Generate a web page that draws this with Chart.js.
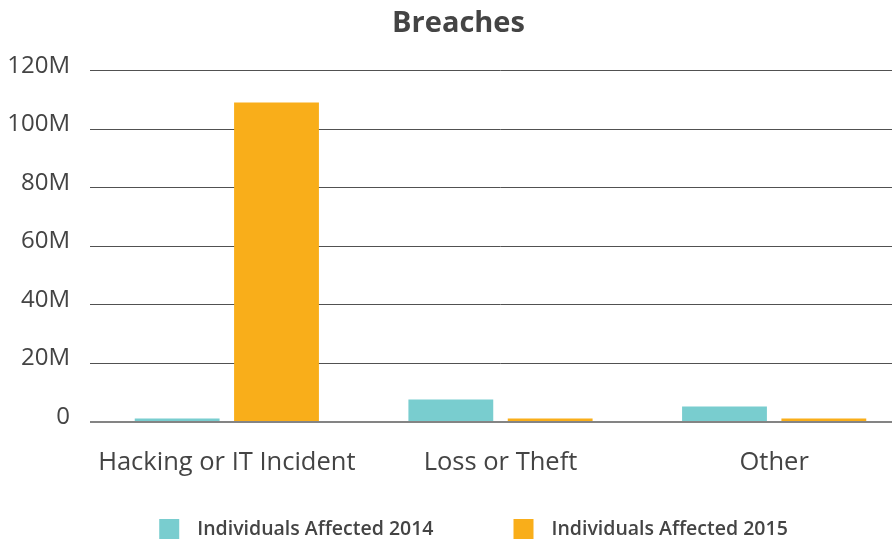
<!DOCTYPE html>
<html>
<head>
<meta charset="utf-8">
<title>Breaches</title>
<script src="https://cdn.jsdelivr.net/npm/chart.js@4/dist/chart.umd.min.js"></script>
<style>
  html, body { margin: 0; padding: 0; background: #fff; overflow: hidden; }
  #wrap { width: 911px; height: 540px; }
</style>
</head>
<body>
<div id="wrap"><canvas id="chart"></canvas></div>
<script>
// ========== DATA ==========
const categories = ["Hacking or IT Incident", "Loss or Theft", "Other"];
const affected2014 = [1.2e6, 7.7e6, 5.3e6];
const affected2015 = [109.2e6, 1.2e6, 1.2e6];
const seriesLabels = ["Individuals Affected 2014", "Individuals Affected 2015"];
const yTickLabels = ["0", "20M", "40M", "60M", "80M", "100M", "120M"];

const TEAL = "#79cdcf";
const ORANGE = "#f9ae1a";
const FONT = "'Open Sans', 'Noto Sans', sans-serif";

// legend drawn by hand: wide gaps between items, square boxes
const bottomLegend = {
  id: "bottomLegend",
  afterDraw(chart) {
    const c = chart.ctx;
    const box = 20, gap = 18, spacing = 80, cy = 529;
    c.save();
    c.font = `600 19.5px ${FONT}`;
    c.textBaseline = "middle";
    const items = chart.data.datasets.map((ds) => ({
      text: ds.label,
      color: ds.backgroundColor,
      w: c.measureText(ds.label).width,
    }));
    const total = items.reduce((s, it) => s + box + gap + it.w, 0) + spacing * (items.length - 1);
    let x = chart.width / 2 + 18 - total / 2;
    items.forEach((it) => {
      c.fillStyle = it.color;
      c.fillRect(x, cy - box / 2, box, box);
      c.fillStyle = "#444";
      c.fillText(it.text, x + box + gap, cy);
      x += box + gap + it.w + spacing;
    });
    c.restore();
  },
};

// ========== CHART ==========
const ctx = document.getElementById("chart");
new Chart(ctx, {
  type: "bar",
  data: {
    labels: categories,
    datasets: [
      { label: seriesLabels[0], data: affected2014, backgroundColor: TEAL },
      { label: seriesLabels[1], data: affected2015, backgroundColor: ORANGE },
    ],
  },
  plugins: [bottomLegend],
  options: {
    responsive: true,
    maintainAspectRatio: false,
    animation: false,
    layout: { padding: { left: 6, right: 0, top: 0, bottom: 58 } },
    datasets: {
      bar: { categoryPercentage: 0.726, barPercentage: 0.854 },
    },
    plugins: {
      title: {
        display: true,
        text: "Breaches",
        color: "#444",
        font: { family: FONT, size: 29, weight: "bold" },
        padding: { top: 6, bottom: 30 },
      },
      legend: { display: false },
      tooltip: { enabled: false },
    },
    scales: {
      x: {
        grid: { display: false, drawTicks: false },
        border: { display: false },
        afterFit: (scale) => {
          scale.height = 60;
          scale.paddingLeft = 0;
          scale.paddingRight = 0;
        },
        ticks: {
          color: "#444",
          font: { family: FONT, size: 25.5 },
          padding: 25,
          maxRotation: 0,
        },
      },
      y: {
        z: 1,
        min: 0,
        max: 120e6,
        border: { display: false },
        afterFit: (scale) => {
          scale.width = 84;
        },
        grid: {
          drawTicks: false,
          color: (c) => (c.tick && c.tick.value === 0 ? "rgba(110,110,110,0.85)" : "rgba(50,50,50,0.85)"),
          lineWidth: (c) => (c.tick && c.tick.value === 0 ? 2 : 1),
        },
        ticks: {
          stepSize: 20e6,
          color: "#444",
          font: { family: FONT, size: 24 },
          padding: 20,
          labelOffset: -5,
          callback: (v, i) => yTickLabels[i],
        },
      },
    },
  },
});
</script>
</body>
</html>
